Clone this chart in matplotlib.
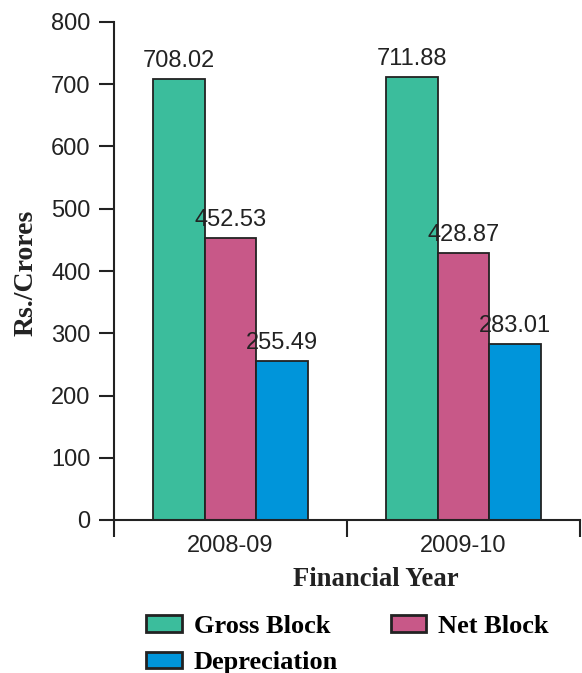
import matplotlib
matplotlib.use("Agg")
import matplotlib.pyplot as plt
from matplotlib.patches import Patch
import numpy as np

years = ["2008-09", "2009-10"]
series_names = ["Gross Block", "Net Block", "Depreciation"]
gross_block = [708.02, 711.88]
net_block = [452.53, 428.87]
depreciation = [255.49, 283.01]
colors = ["#3bbd9c", "#c85888", "#0095da"]

plt.rcParams["font.family"] = ["Liberation Sans", "DejaVu Sans"]

fig = plt.figure(figsize=(5.82, 6.73), dpi=100)
ax = fig.add_axes([114 / 582, 1 - 520 / 673, 466 / 582, 498 / 673])

centers = np.arange(len(years)) + 0.5
width = 0.222
values = [gross_block, net_block, depreciation]
for i, (vals, col) in enumerate(zip(values, colors)):
    xs = centers + (i - 1) * width
    ax.bar(xs, vals, width, color=col, edgecolor="#222222", linewidth=1.3, zorder=2)
    for x, v in zip(xs, vals):
        ax.annotate(f"{v:.2f}", (x, v), xytext=(0, 5), textcoords="offset points",
                    ha="center", va="bottom", fontsize=17, color="#222222")

ax.set_xlim(0, 2)
ax.set_ylim(0, 800)
ax.set_yticks(np.arange(0, 801, 100))
ax.set_xticks([0, 1, 2])
ax.set_xticklabels(["", "", ""])
ax.set_xticks(centers, minor=True)
ax.set_xticklabels(years, minor=True)

for s in ["top", "right"]:
    ax.spines[s].set_visible(False)
for s in ["left", "bottom"]:
    ax.spines[s].set_linewidth(1.5)
    ax.spines[s].set_color("#222222")

ax.tick_params(axis="y", direction="out", length=11, width=1.5, pad=6,
               labelsize=17, color="#222222", labelcolor="#222222")
ax.tick_params(axis="x", which="major", direction="out", length=12, width=1.5,
               color="#222222")
ax.tick_params(axis="x", which="minor", length=0, pad=11, labelsize=17,
               labelcolor="#222222")

fig.text(26 / 582, 1 - 273 / 673, "Rs./Crores", rotation=90, ha="center", va="center",
         fontsize=20, fontweight="bold", family="Liberation Serif", color="#222222")
fig.text(376 / 582, 1 - 579 / 673, "Financial Year", ha="center", va="center",
         fontsize=19.2, fontweight="bold", family="Liberation Serif", color="#222222")

handles = [Patch(facecolor=colors[0], edgecolor="#222222", linewidth=2),
           Patch(facecolor=colors[2], edgecolor="#222222", linewidth=2),
           Patch(facecolor=colors[1], edgecolor="#222222", linewidth=2)]
labels = [series_names[0], series_names[2], series_names[1]]
fig.legend(handles, labels, ncol=2, loc="upper left",
           bbox_to_anchor=(146 / 582, 1 - 615 / 673), frameon=False,
           borderpad=0, borderaxespad=0, handlelength=1.35, handleheight=0.6,
           handletextpad=0.45, columnspacing=2.0, labelspacing=0.5,
           prop={"family": "Liberation Serif", "weight": "bold", "size": 19})

fig.savefig("out.png", dpi=100)
